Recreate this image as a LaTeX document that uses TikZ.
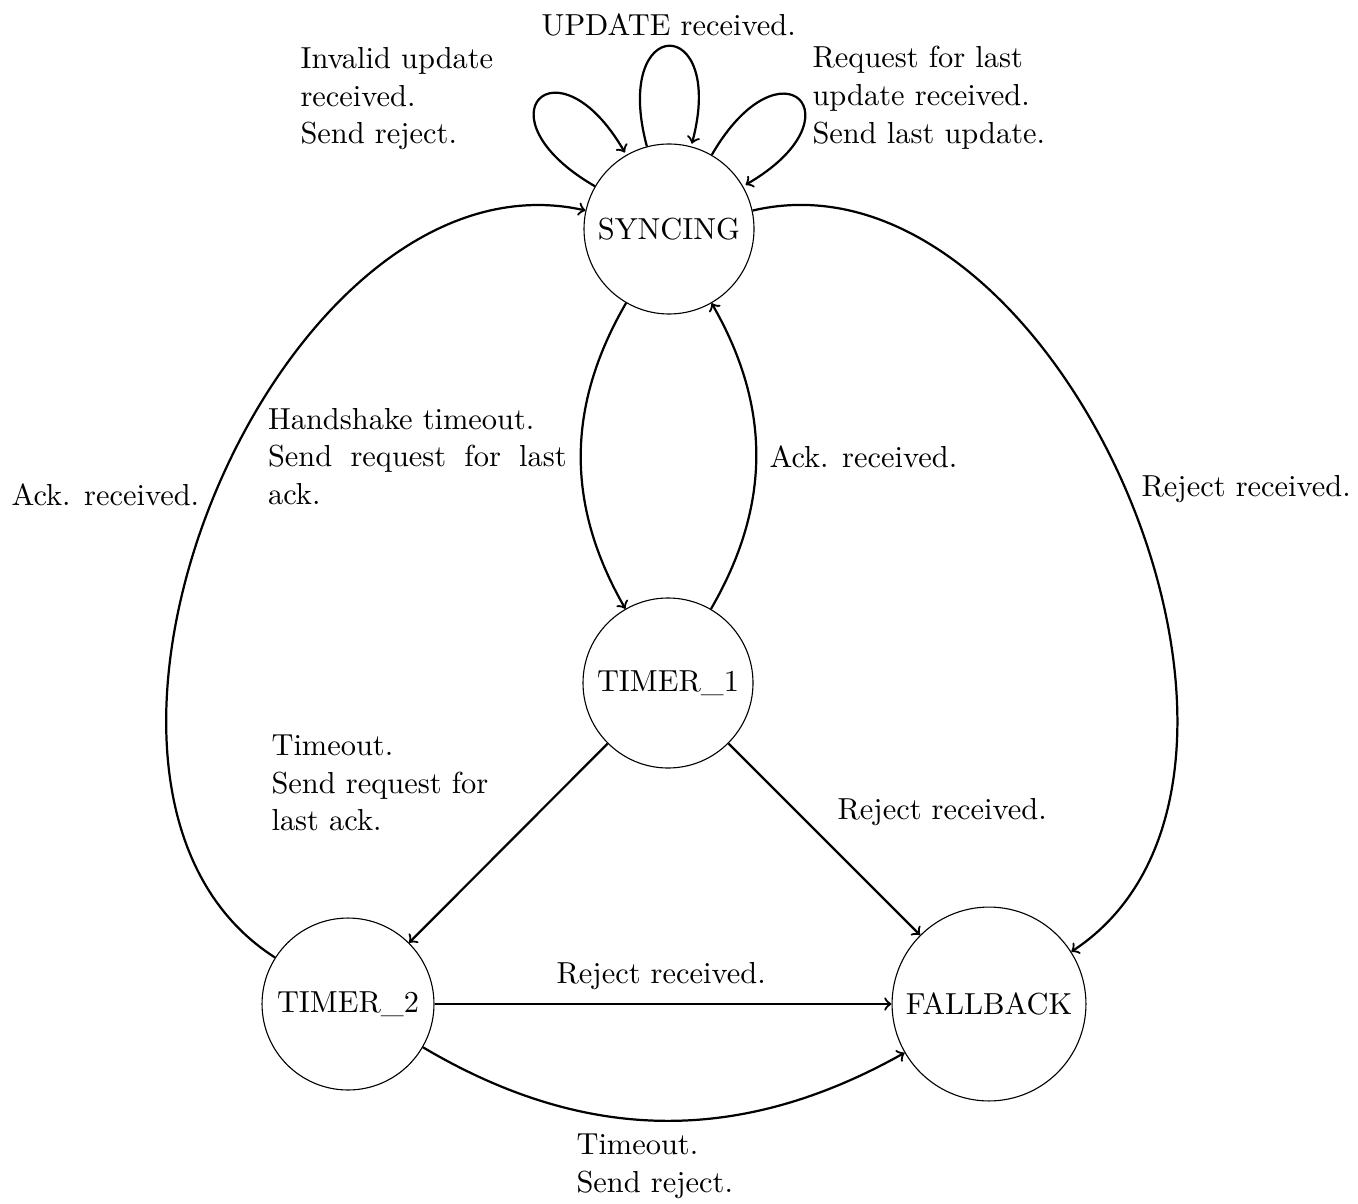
\documentclass[tikz,border=0pt]{standalone}
\usepackage{fontspec}
\begin{document}
\begin{tikzpicture}[x=0.36pt, y=0.36pt,
  every node/.style={font=\fontsize{10.95}{13.6}\selectfont},
  state/.style={draw, circle, thin, inner sep=0pt},
  lbl/.style={inner sep=0pt, align=left, anchor=west},
  trans/.style={thick, ->},
]
\useasboundingbox (0,0) rectangle (1358,-1203);

% states
\node[state, minimum size=61.2pt] (S)  at (669,-229)  {SYNCING};
\node[state, minimum size=61.2pt] (T1) at (668,-683)  {TIMER\_1};
\node[state, minimum size=61.9pt] (T2) at (348,-1004) {TIMER\_2};
\node[state, minimum size=69.8pt] (F)  at (989,-1004) {FALLBACK};

% transitions
\path[trans]
  (S)  edge[loop above] (S)
  (S)  edge[out=150, in=120, loop] (S)
  (S)  edge[out=60, in=30, loop] (S)
  (S)  edge[bend right=30] (T1)
  (T1) edge[bend right=30] (S)
  (S)  edge[bend left=80] (F)
  (T2) edge[bend left=80] (S)
  (T1) edge (T2)
  (T1) edge (F)
  (T2) edge (F)
  (T2) edge[bend right=30] (F);

% transition labels
\node[inner sep=0pt] (lUpd) at (668.7,-25.2) {UPDATE received.};
\node[lbl] (lInv) at (300,-98.7) {Invalid update\\received.\\Send reject.};
\node[lbl] (lReq) at (812,-97.8) {Request for last\\update received.\\Send last update.};
\node[lbl, text width=107.5pt, align=justify] (lHs) at (267.5,-456.5)
  {Handshake timeout.\\Send request for last ack.};
\node[lbl] (lAck1) at (769,-456.5) {Ack. received.};
\node[lbl] (lAck2) at (11,-494.5) {Ack. received.};
\node[lbl] (lRej1) at (1141,-489.1) {Reject received.};
\node[lbl] (lTo1) at (271,-783) {Timeout.\\Send request for\\last ack.};
\node[lbl] (lRej2) at (837,-812) {Reject received.};
\node[lbl] (lRej3) at (556,-976) {Reject received.};
\node[lbl] (lTo2) at (576,-1166.5) {Timeout.\\Send reject.};
\end{tikzpicture}
\end{document}
